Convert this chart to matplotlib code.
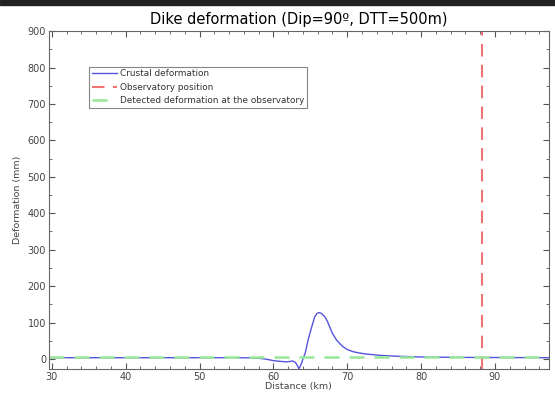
import matplotlib
matplotlib.use("Agg")
import matplotlib.pyplot as plt
from matplotlib.ticker import MultipleLocator
from matplotlib.patches import Rectangle

# surface deformation profile across the dike (km, mm)
distance = [30, 35, 40, 45, 50, 55.5, 57, 58.2, 59, 60, 60.9, 61.8, 62.3, 62.6,
            63.0, 63.25, 63.45, 63.6, 63.8, 64.0, 64.3, 64.7, 65.2, 65.6,
            65.9, 66.2, 66.5, 66.96, 67.3, 67.6, 68.0, 68.55, 69.0, 69.4,
            70.0, 70.8, 71.6, 72.6, 74.4, 76.7, 80, 84, 90, 97.3]
deformation = [3.5, 3.5, 3.5, 3.5, 3.5, 3.5, 3, 1.5, -0.5, -4.5, -6.5, -8, -6.5, -5.5,
               -10, -18, -26.5, -22, -12, 0, 15.6, 52, 89, 116,
               125, 127.5, 125, 116, 104, 89, 70, 52, 42, 34,
               26, 20, 16.5, 13.5, 10, 7.5, 5.5, 4.5, 4, 3.5]

obs_position = 88.2
obs_value = 5

fig = plt.figure(figsize=(5.55, 3.94), dpi=100)
ax = fig.add_axes([0.088, 0.063, 0.901, 0.858])

ax.plot(distance, deformation, color="#5555dd", lw=1.0, label="Crustal deformation")
ax.axvline(obs_position, color="#f07474", lw=1.5, ls=(0, (6, 4)), label="Observatory position")
ax.axhline(obs_value, color="#98e898", lw=1.8, ls=(0, (6, 4)),
           label="Detected deformation at the observatory")

ax.set_xlim(29.6, 97.3)
ax.set_ylim(-28, 900)
ax.xaxis.set_major_locator(MultipleLocator(10))
ax.xaxis.set_minor_locator(MultipleLocator(2))
ax.yaxis.set_major_locator(MultipleLocator(100))
ax.yaxis.set_minor_locator(MultipleLocator(50))
ax.tick_params(which="both", direction="in", top=True, right=True,
               colors="#555555", labelsize=7, labelcolor="#444444", pad=2)
ax.tick_params(which="major", length=4)
ax.tick_params(which="minor", length=2)
for s in ax.spines.values():
    s.set_color("#666666")

ax.set_title("Dike deformation (Dip=90º, DTT=500m)", fontsize=10.5, pad=5)
ax.set_xlabel("Distance (km)", fontsize=6.8, color="#444444", labelpad=0)
ax.set_ylabel("Deformation (mm)", fontsize=6.8, color="#444444", labelpad=4)

leg = ax.legend(loc="upper left", bbox_to_anchor=(0.072, 0.908), fontsize=6.4,
                frameon=True, fancybox=False, handlelength=2.8, borderpad=0.3,
                labelspacing=0.5, handletextpad=0.3)
leg.get_frame().set_edgecolor("#666666")
leg.get_frame().set_linewidth(0.8)
for t in leg.get_texts():
    t.set_color("#333333")

# dark strip along the top edge
fig.patches.append(Rectangle((0, 0.988), 1, 0.012, transform=fig.transFigure,
                             color="#222222", zorder=0))

fig.savefig("out.png", dpi=100)
